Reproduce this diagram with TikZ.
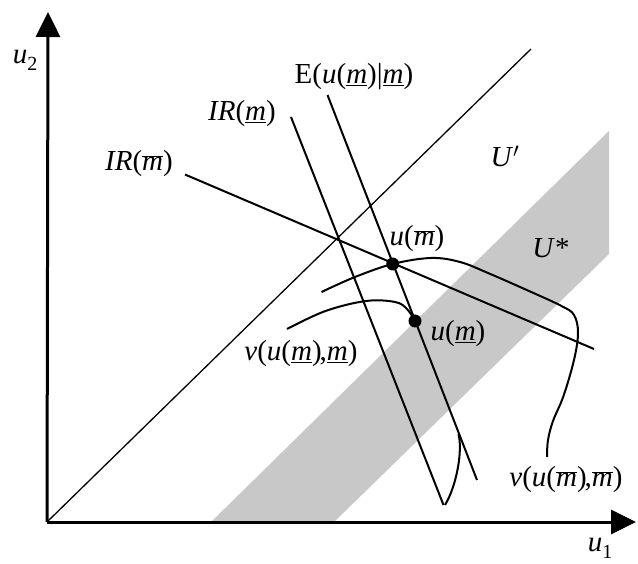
\documentclass[tikz,border=0pt]{standalone}
\usepackage{fontspec}
\setmainfont{Liberation Serif}
\usetikzlibrary{arrows.meta}
\newcommand{\mover}{\ensuremath{\overline{\mbox{\itshape m}}}}
\newcommand{\munder}{\underline{\itshape m}}
\definecolor{bandgray}{RGB}{200,200,200}
\begin{document}
\begin{tikzpicture}[x=1pt,y=-1pt,
  lbl/.style={font=\fontsize{29}{31}\selectfont, inner sep=0pt},
  ax/.style={line width=3pt, -{Triangle[length=25pt,width=24pt]}},
  ln/.style={line width=2pt},
  diag/.style={line width=1.3pt},
  dotn/.style={circle, fill=black, inner sep=0pt, minimum size=13pt}]
\useasboundingbox (0,0) rectangle (638,564);
% shaded band U*
\fill[bandgray] (211,522) -- (334,522) -- (609,254) -- (609,131) -- cycle;
% axes and 45-degree line
\coordinate (O) at (47,522);
\coordinate (Ytop) at (48,12);
\coordinate (Xend) at (636,522);
\coordinate (D) at (531,49);
\draw[diag] (O) -- (D);
\draw[ax] (O) -- (Ytop);
\draw[ax] (O) -- (Xend);
% straight lines
\coordinate (IRoA) at (185,174.5);
\coordinate (IRoB) at (594,349);
\coordinate (IRuA) at (291,117);
\coordinate (IRuB) at (443.5,505);
\coordinate (EA) at (327.5,95);
\coordinate (EB) at (477,480);
\draw[ln] (IRoA) -- (IRoB);
\draw[ln] (IRuA) -- (IRuB);
\draw[ln] (EA) -- (EB);
% indifference curves
\draw[ln] plot[smooth, tension=0.6] coordinates {(321.5,292) (355,277) (392.7,264) (431,258) (460,262) (488,273) (529,291) (561.5,306) (574,315) (578,333) (574,360) (563.5,396) (553,421) (548,440) (547,457)};
\draw[ln] plot[smooth, tension=0.6] coordinates {(287,329) (325.5,311) (366,301) (395,302) (407,309) (415,321)};
\coordinate (Bsep) at (458.5,434);
\coordinate (Bend) at (445,505);
\draw[ln] (Bsep) .. controls (463,452) and (456,487) .. (Bend);
% points
\node[dotn] (um) at (392.7,264) {};
\node[dotn] (uu) at (415,321) {};
% labels
\node[lbl] (lu2) at (25,60) {\textit{u}\raisebox{-7pt}{\fontsize{20}{20}\selectfont 2}};
\node[lbl] (lu1) at (600,548) {\textit{u}\raisebox{-7pt}{\fontsize{20}{20}\selectfont 1}};
\node[lbl] (lIRo) at (139,164) {\textit{IR}(\mover)};
\node[lbl] (lIRu) at (242,114) {\textit{IR}(\munder)};
\node[lbl] (lE) at (354,77) {E(\textit{u}(\munder)|\munder)};
\node[lbl] (lUp) at (505,156) {\textit{U}$'$};
\node[lbl] (lUs) at (551,248) {\textit{U}*};
\node[lbl] (lum) at (417,239) {\textit{u}(\mover)};
\node[lbl] (lumu) at (458,334) {\textit{u}(\munder)};
\node[lbl] (lvu) at (301,354) {\textit{v}(\textit{u}(\munder)\kern-2pt,\munder)};
\node[lbl] (lvo) at (566,480) {\textit{v}(\textit{u}(\mover)\kern-2pt,\mover)};
\end{tikzpicture}
\end{document}
